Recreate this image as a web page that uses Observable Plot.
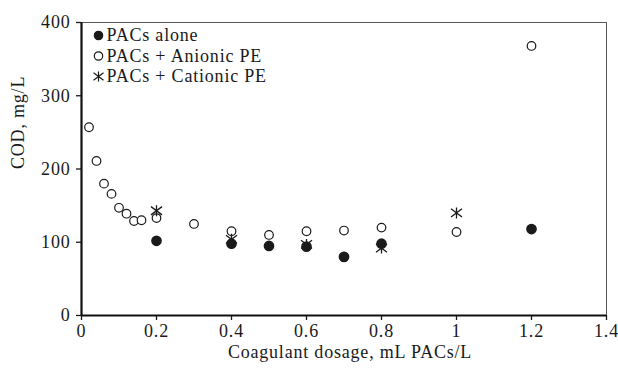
<!DOCTYPE html>
<html>
<head>
<meta charset="utf-8">
<script src="https://cdn.jsdelivr.net/npm/d3@7"></script>
<script src="https://cdn.jsdelivr.net/npm/@observablehq/plot@0.6"></script>
<style>
  body { margin: 0; background: #fff; }
  #chart { position: relative; width: 618px; height: 368px; }
  #chart svg text { letter-spacing: 0.8px; }
</style>
</head>
<body>
<div id="chart"></div>
<script>
// Data
const alonePACsX = [0.2, 0.4, 0.5, 0.6, 0.7, 0.8, 1.2];
const alonePACsY = [102, 98, 95, 94, 80, 98, 118];

const anionicX = [0.02, 0.04, 0.06, 0.08, 0.10, 0.12, 0.14, 0.16, 0.2, 0.3, 0.4, 0.5, 0.6, 0.7, 0.8, 1.0, 1.2];
const anionicY = [257, 211, 180, 166, 147, 139, 129, 130, 133, 125, 115, 110, 115, 116, 120, 114, 368];

const cationicX = [0.2, 0.4, 0.6, 0.8, 1.0];
const cationicY = [143, 104, 97, 92, 140];

const xTicks = [0, 0.2, 0.4, 0.6, 0.8, 1, 1.2, 1.4];
const yTicks = [0, 100, 200, 300, 400];

const seriesNames = ["PACs alone", "PACs + Anionic PE", "PACs + Cationic PE"];

const toRows = (xs, ys) => xs.map((x, i) => ({x, y: ys[i]}));
const alone = toRows(alonePACsX, alonePACsY);
const anionic = toRows(anionicX, anionicY);
const cationic = toRows(cationicX, cationicY);

// asterisk: vertical bar plus an X
const star = {
  draw(context, size) {
    const r = Math.sqrt(size / Math.PI);
    context.moveTo(0, -r); context.lineTo(0, r);
    context.moveTo(-r, -0.75 * r); context.lineTo(r, 0.75 * r);
    context.moveTo(-r, 0.75 * r); context.lineTo(r, -0.75 * r);
  }
};

const font = "'Liberation Serif', 'DejaVu Serif', serif";
const ink = "#1a1a1a";
const fs = 18;

const legendMarks = [];
const legendSym = [
  {symbol: "circle", fill: ink, r: 4.2},
  {symbol: "circle", fill: "#fff", r: 4.2},
  {symbol: star, fill: "none", r: 5}
];
seriesNames.forEach((name, i) => {
  const dy = 13 + i * 20.5;
  legendMarks.push(
    Plot.dot([name], {frameAnchor: "top-left", dx: 17, dy, r: legendSym[i].r,
      symbol: legendSym[i].symbol, fill: legendSym[i].fill, stroke: ink, strokeWidth: 1.2}),
    Plot.text([name], {frameAnchor: "top-left", dx: 25, dy, text: d => d,
      textAnchor: "start", lineAnchor: "middle", fontSize: fs, fill: ink})
  );
});

const chart = Plot.plot({
  width: 618,
  height: 368,
  marginLeft: 81,
  marginRight: 12,
  marginTop: 22,
  marginBottom: 53,
  style: {fontFamily: font, fontSize: fs + "px", color: ink, background: "#fff"},
  x: {domain: [0, 1.4], label: null},
  y: {domain: [0, 400], label: null},
  marks: [
    Plot.ruleY([400], {stroke: "#555", strokeWidth: 1}),
    Plot.ruleX([1.4], {stroke: "#555", strokeWidth: 1}),
    Plot.axisX({ticks: xTicks, tickFormat: d => String(d), tickSize: 5, tickPadding: 4, stroke: ink, strokeWidth: 1.3, fontSize: fs, fill: ink, label: null}),
    Plot.axisY({ticks: yTicks, tickFormat: d => String(d), tickSize: 5, tickPadding: 6, stroke: ink, strokeWidth: 1.3, fontSize: fs, fill: ink, label: null}),
    Plot.ruleX([0], {stroke: "#111", strokeWidth: 2.2}),
    Plot.ruleY([0], {stroke: "#111", strokeWidth: 2.2}),
    Plot.dot(anionic, {x: "x", y: "y", r: 4.3, symbol: "circle", stroke: ink, strokeWidth: 1.2, fill: "#fff"}),
    Plot.dot(alone, {x: "x", y: "y", r: 4.6, symbol: "circle", fill: ink, stroke: ink}),
    Plot.dot(cationic, {x: "x", y: "y", r: 5.5, symbol: star, fill: "none", stroke: ink, strokeWidth: 1.3}),
    ...legendMarks,
    // axis titles
    Plot.text(["Coagulant dosage, mL PACs/L"], {
      frameAnchor: "bottom", dy: 42, dx: 6, text: d => d, fontSize: fs, fill: ink
    }),
    Plot.text(["COD, mg/L"], {
      frameAnchor: "left", dx: -63, rotate: -90, text: d => d, fontSize: fs, fill: ink
    })
  ]
});
document.getElementById("chart").appendChild(chart);
</script>
</body>
</html>
